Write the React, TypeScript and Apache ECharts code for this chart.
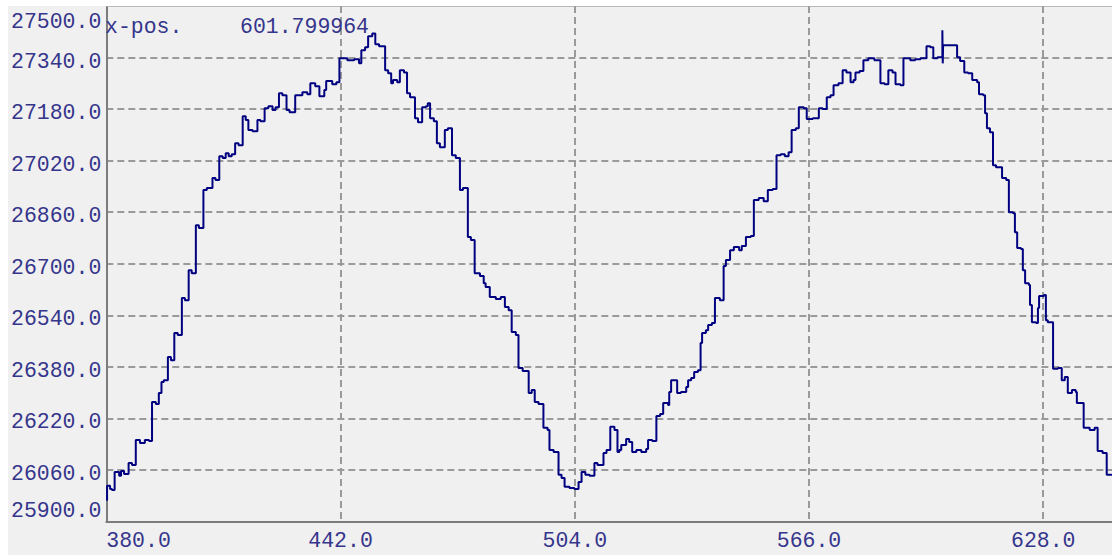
import React, { useEffect, useRef } from 'react';
import * as echarts from 'echarts';

// Tick values of the axes
const xTicks = [380, 442, 504, 566, 628];
const yTicks = [25900, 26060, 26220, 26380, 26540, 26700, 26860, 27020, 27180, 27340, 27500];
const xMaxValue = 646.2;

// Cursor read-out
const cursorLabel = 'x-pos.';
const cursorValue = '601.799964';

// Trace: x position and value (each point starts a plateau)
const xPos = [
  380.0, 380.2, 381.0, 381.5, 382.2, 383.4, 383.9, 384.7, 385.9, 386.8,
  387.8, 388.9, 390.2, 391.3, 392.1, 393.1, 393.9, 394.6, 395.2, 396.3,
  397.1, 398.0, 398.9, 400.0, 400.8, 401.8, 402.6, 403.7, 404.5, 405.7,
  406.6, 408.1, 408.9, 409.9, 410.8, 411.6, 412.4, 413.2, 414.1, 415.0,
  416.1, 416.9, 417.6, 418.7, 420.0, 420.8, 421.9, 422.9, 424.0, 424.8,
  425.7, 426.6, 427.7, 428.5, 430.0, 431.9, 433.2, 434.0, 435.3, 436.4,
  437.7, 438.2, 439.8, 440.9, 441.7, 443.8, 445.6, 446.9, 447.5, 448.5,
  449.3, 450.4, 451.2, 452.2, 453.8, 454.6, 455.4, 455.9, 457.0, 457.7,
  458.8, 459.6, 460.4, 461.7, 462.5, 463.6, 464.6, 465.1, 465.7, 466.7,
  467.5, 468.3, 469.6, 470.4, 471.5, 472.5, 473.6, 474.4, 475.7, 476.5,
  477.5, 478.9, 479.9, 480.4, 481.5, 483.1, 484.4, 485.5, 486.5, 487.3,
  488.4, 489.1, 490.2, 491.8, 492.6, 493.4, 494.4, 495.7, 496.8, 497.3,
  498.4, 499.7, 500.5, 501.3, 502.6, 503.9, 505.0, 505.8, 506.8, 507.9,
  509.2, 510.0, 511.6, 512.4, 513.4, 514.5, 515.3, 515.8, 516.3, 517.6,
  518.4, 519.2, 520.3, 521.6, 522.9, 523.4, 524.5, 525.6, 526.6, 527.4,
  528.7, 529.0, 529.5, 531.1, 532.1, 533.5, 534.0, 534.8, 535.6, 536.6,
  537.3, 537.7, 538.7, 539.3, 540.3, 541.1, 542.4, 543.4, 544.0, 545.1,
  546.1, 547.5, 548.2, 549.3, 550.6, 551.4, 552.7, 554.0, 555.1, 556.4,
  557.4, 558.5, 559.6, 560.6, 561.4, 562.5, 563.3, 564.6, 565.4, 567.0,
  568.6, 569.6, 570.7, 571.7, 572.5, 573.8, 574.9, 575.9, 577.0, 577.8,
  578.3, 579.4, 580.4, 581.7, 583.3, 584.9, 586.0, 587.0, 588.1, 588.9,
  590.2, 591.0, 592.8, 594.1, 595.5, 597.1, 598.1, 598.9, 600.0, 601.3,
  601.4, 601.5, 602.9, 604.2, 605.2, 606.0, 607.1, 608.1, 609.2, 610.5,
  611.0, 612.1, 612.6, 613.1, 613.9, 614.7, 615.5, 617.1, 618.2, 618.9,
  620.0, 620.5, 621.1, 622.1, 622.6, 623.2, 624.2, 624.5, 625.0, 626.1,
  626.6, 626.9, 628.2, 628.7, 629.2, 630.6, 631.9, 632.9, 633.7, 634.5,
  635.6, 636.6, 636.9, 638.2, 638.7, 640.3, 641.6, 642.4, 643.7, 644.8,
  646.1,
];
const yVal = [
  25967, 26011, 26001, 25998, 26054, 26042, 26057, 26048, 26082, 26076,
  26153, 26144, 26153, 26150, 26271, 26265, 26299, 26333, 26339, 26411,
  26401, 26485, 26479, 26594, 26587, 26680, 26671, 26820, 26811, 26929,
  26935, 26966, 26960, 27034, 27028, 27043, 27034, 27040, 27074, 27068,
  27158, 27146, 27115, 27111, 27146, 27142, 27183, 27189, 27177, 27186,
  27229, 27223, 27177, 27170, 27223, 27232, 27226, 27260, 27251, 27220,
  27239, 27267, 27257, 27263, 27338, 27332, 27335, 27322, 27363, 27372,
  27406, 27415, 27381, 27375, 27301, 27291, 27260, 27270, 27263, 27301,
  27294, 27229, 27217, 27152, 27139, 27186, 27189, 27198, 27152, 27142,
  27074, 27062, 27115, 27121, 27037, 27028, 26929, 26935, 26783, 26774,
  26671, 26662, 26640, 26628, 26597, 26591, 26597, 26566, 26556, 26488,
  26479, 26377, 26367, 26299, 26308, 26271, 26265, 26191, 26184, 26122,
  26116, 26045, 26035, 26008, 26004, 26001, 26023, 26054, 26045, 26042,
  26082, 26076, 26113, 26122, 26194, 26184, 26116, 26122, 26138, 26156,
  26147, 26116, 26122, 26116, 26125, 26153, 26150, 26228, 26234, 26268,
  26262, 26302, 26339, 26299, 26302, 26318, 26339, 26346, 26364, 26370,
  26454, 26485, 26494, 26510, 26516, 26594, 26587, 26693, 26712, 26742,
  26752, 26742, 26755, 26783, 26786, 26898, 26904, 26894, 26929, 26932,
  27037, 27040, 27034, 27046, 27115, 27121, 27186, 27183, 27149, 27152,
  27183, 27180, 27217, 27223, 27254, 27260, 27301, 27294, 27263, 27270,
  27294, 27298, 27332, 27338, 27332, 27260, 27257, 27301, 27294, 27257,
  27254, 27338, 27332, 27335, 27338, 27375, 27372, 27338, 27341, 27425,
  27322, 27378, 27378, 27378, 27341, 27329, 27294, 27291, 27270, 27263,
  27226, 27223, 27167, 27121, 27108, 27006, 27000, 26966, 26960, 26860,
  26857, 26798, 26749, 26746, 26680, 26640, 26634, 26572, 26519, 26516,
  26563, 26600, 26603, 26525, 26519, 26374, 26377, 26339, 26349, 26299,
  26308, 26302, 26268, 26268, 26191, 26184, 26191, 26119, 26113, 26045,
  26042,
];

const FONT = "'Courier New', 'Liberation Mono', monospace";
const TEXT_COLOR = '#35358c';
const FONT_SIZE = 21.5;

export default function App() {
  const ref = useRef<HTMLDivElement>(null);

  useEffect(() => {
    document.body.style.margin = '0';
    document.body.style.background = '#ffffff';
    const chart = echarts.init(ref.current!, null, { renderer: 'svg' });
    const xMin = xTicks[0];
    const xStep = xTicks[1] - xTicks[0];
    const yMin = yTicks[0];
    const yMax = yTicks[yTicks.length - 1];
    const yStep = yTicks[1] - yTicks[0];
    const txt = { fontFamily: FONT, fontSize: FONT_SIZE, color: TEXT_COLOR };

    chart.setOption({
      animation: false,
      backgroundColor: '#f0f0f0',
      title: [
        { text: cursorLabel, left: 97, top: 10, padding: 0, textStyle: { ...txt, fontWeight: 'normal' } },
        { text: cursorValue, left: 232, top: 10, padding: 0, textStyle: { ...txt, fontWeight: 'normal' } },
      ],
      grid: { left: 95, right: 0, top: 0, bottom: 33.4 },
      xAxis: [
        {
          type: 'value',
          min: xMin,
          max: xMaxValue,
          interval: xStep,
          axisLine: { show: true, onZero: false, lineStyle: { color: '#7c7c7c', width: 2 } },
          axisTick: { show: false },
          axisLabel: {
            ...txt,
            margin: 8,
            formatter: (v: number) => v.toFixed(1),
            showMaxLabel: false,
            alignMinLabel: 'left',
          },
          splitLine: {
            show: true,
            showMinLine: false,
            showMaxLine: false,
            lineStyle: { color: '#9a9a9a', width: 2, type: [7, 4] },
          },
        },
        {
          type: 'value',
          position: 'top',
          min: xMin,
          max: xMaxValue,
          interval: xStep,
          axisLine: { show: true, onZero: false, lineStyle: { color: '#a8a8a8', width: 1.5 } },
          axisTick: { show: false },
          axisLabel: { show: false },
          splitLine: { show: false },
        },
      ],
      yAxis: {
        type: 'value',
        min: yMin,
        max: yMax,
        interval: yStep,
        axisLine: { show: true, onZero: false, lineStyle: { color: '#7c7c7c', width: 2 } },
        axisTick: { show: false },
        axisLabel: {
          ...txt,
          margin: 5,
          formatter: (v: number) => {
            const s = v.toFixed(1);
            const k = v >= yMax ? 'hi' : v <= yMin ? 'lo' : 'n';
            return `{${k}|${s}}`;
          },
          rich: {
            n: { ...txt, padding: [8, 0, 0, 0] },
            hi: { ...txt, padding: [32, 0, 0, 0] },
            lo: { ...txt, padding: [0, 0, 22, 0] },
          },
        },
        splitLine: {
          show: true,
          showMinLine: false,
          showMaxLine: false,
          lineStyle: { color: '#9a9a9a', width: 2, type: [7, 4] },
        },
      },
      series: [
        {
          type: 'line',
          step: 'end',
          xAxisIndex: 0,
          data: xPos.map((x, i) => [x, yVal[i]]),
          showSymbol: false,
          symbol: 'none',
          lineStyle: { color: '#000080', width: 2 },
        },
      ],
    });

    return () => chart.dispose();
  }, []);

  return (
    <div
      ref={ref}
      style={{ position: 'absolute', left: 8, top: 6, width: 1104, height: 549 }}
    />
  );
}
